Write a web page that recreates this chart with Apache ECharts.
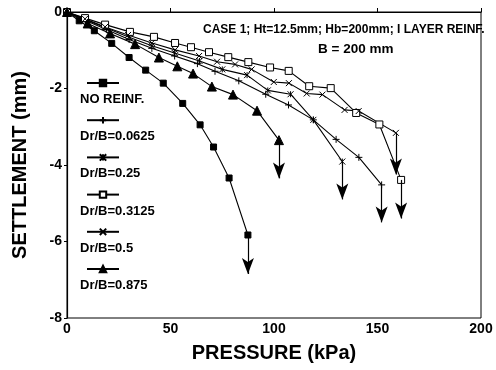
<!DOCTYPE html>
<html>
<head>
<meta charset="utf-8">
<script src="https://cdn.jsdelivr.net/npm/echarts@6/dist/echarts.min.js"></script>
<style>
  html, body { margin: 0; padding: 0; background: #fff; }
  #chart { width: 496px; height: 370px; }
</style>
</head>
<body>
<div id="chart"></div>
<script>
// pressure (kPa) / settlement (mm)
var noReinfP = [0, 5.9, 13.2, 21.6, 30, 38, 46.5, 55.9, 64.3, 70.8, 78.3, 87.4];
var noReinfS = [0, -0.23, -0.49, -0.82, -1.19, -1.52, -1.86, -2.39, -2.95, -3.53, -4.34, -5.83];

var d0625P = [0, 9, 19, 30, 41, 52, 63, 71.5, 83, 96, 107, 119, 130, 141, 152];
var d0625S = [0, -0.22, -0.46, -0.72, -0.95, -1.15, -1.35, -1.55, -1.8, -2.15, -2.43, -2.82, -3.33, -3.8, -4.52];

var d025P = [0, 9, 19, 30, 41, 52, 64, 75, 87, 97, 108, 119, 133];
var d025S = [0, -0.2, -0.42, -0.66, -0.88, -1.07, -1.28, -1.5, -1.65, -2.05, -2.15, -2.82, -3.91];

var d03125P = [0, 8.7, 18.4, 30.4, 42, 52.2, 59.9, 68.6, 77.9, 87.6, 98.1, 107.1, 117, 127.4, 139.7, 150.9, 161.4];
var d03125S = [0, -0.16, -0.33, -0.52, -0.65, -0.81, -0.92, -1.05, -1.18, -1.31, -1.45, -1.54, -1.94, -1.99, -2.64, -2.94, -4.39];

var d05P = [0, 8.7, 18.4, 29.5, 41, 52.2, 63.8, 72.5, 81.2, 89.2, 99.9, 107.2, 115.8, 123.4, 134.1, 140.9, 158.9];
var d05S = [0, -0.18, -0.39, -0.6, -0.81, -0.99, -1.15, -1.3, -1.37, -1.5, -1.83, -1.86, -2.13, -2.16, -2.56, -2.59, -3.16];

var d0875P = [0, 10, 20.8, 32.9, 44.4, 53.3, 60.9, 70, 80.2, 91.8, 102.4];
var d0875S = [0, -0.3, -0.56, -0.84, -1.19, -1.42, -1.61, -1.95, -2.16, -2.58, -3.35];

// where each failure arrow ends (settlement, mm)
var arrowEnds = [-6.85, -5.5, -4.9, -5.4, -4.25, -4.35];

var names = ['NO REINF.', 'Dr/B=0.0625', 'Dr/B=0.25', 'Dr/B=0.3125', 'Dr/B=0.5', 'Dr/B=0.875'];
var xTicks = [0, 50, 100, 150, 200];
var yTicks = [-8, -6, -4, -2, 0];

var chart = echarts.init(document.getElementById('chart'));

var sets = [
  [noReinfP, noReinfS, 'rect', 6, '#000'],
  [d0625P, d0625S, 'path://M5,0L5,10M0,5L10,5', 7, '#000'],
  [d025P, d025S, 'path://M0,0L10,10M10,0L0,10M5,0L5,10', 6, '#000'],
  [d03125P, d03125S, 'rect', 7, '#fff'],
  [d05P, d05S, 'path://M0,0L10,10M10,0L0,10', 6, '#000'],
  [d0875P, d0875S, 'triangle', 9, '#000']
];

var series = sets.map(function (s, i) {
  var xs = s[0], ys = s[1];
  var last = xs.length - 1;
  return {
    name: names[i],
    type: 'line',
    data: xs.map(function (p, k) { return [p, ys[k]]; }),
    symbol: s[2],
    symbolSize: s[3],
    showAllSymbol: true,
    lineStyle: { color: '#000', width: 1.1 },
    itemStyle: { color: s[4], borderColor: '#000', borderWidth: 1 },
    z: 3,
    markLine: {
      silent: true,
      symbol: ['none', 'arrow'],
      symbolSize: [9, 16],
      label: { show: false },
      lineStyle: { color: '#000', type: 'solid', width: 1.2 },
      data: [[{ coord: [xs[last], ys[last]] }, { coord: [xs[last], arrowEnds[i]] }]]
    }
  };
});

// one legend per entry; label pushed onto a second line under the line sample
var legends = names.map(function (n, i) {
  return {
    left: 75,
    top: 45 + i * 37.2,
    itemWidth: 32,
    itemHeight: 8,
    data: [n],
    formatter: function (name) { return '\n' + name; },
    textStyle: {
      fontSize: 13,
      fontWeight: 'bold',
      color: '#000',
      lineHeight: 33,
      padding: [0, 0, 0, -44]
    }
  };
});

var option = {
  animation: false,
  textStyle: { fontFamily: 'Liberation Sans', color: '#000' },
  title: [
    {
      text: 'CASE 1; Ht=12.5mm; Hb=200mm; I LAYER REINF.',
      left: 198, top: 19,
      textStyle: { fontSize: 12, fontWeight: 'bold', color: '#000' }
    },
    {
      text: 'B = 200 mm',
      left: 313, top: 37,
      textStyle: { fontSize: 13.5, fontWeight: 'bold', color: '#000' }
    }
  ],
  legend: legends,
  grid: {
    left: 67, right: 15, top: 12, bottom: 52,
    show: true,
    borderColor: '#000',
    borderWidth: 1
  },
  xAxis: {
    type: 'value',
    min: xTicks[0],
    max: xTicks[xTicks.length - 1],
    interval: 50,
    name: 'PRESSURE (kPa)',
    nameLocation: 'middle',
    nameGap: 25,
    nameTextStyle: { fontSize: 20, fontWeight: 'bold', color: '#000' },
    axisLine: { lineStyle: { color: '#000', width: 1.2 } },
    axisTick: { inside: true, length: 4, lineStyle: { color: '#000' } },
    axisLabel: { fontSize: 14, fontWeight: 'bold', color: '#000', margin: 4 },
    splitLine: { show: false }
  },
  yAxis: {
    type: 'value',
    min: yTicks[0],
    max: yTicks[yTicks.length - 1],
    interval: 2,
    name: 'SETTLEMENT (mm)',
    nameLocation: 'middle',
    nameGap: 37,
    nameTextStyle: { fontSize: 20, fontWeight: 'bold', color: '#000' },
    axisLine: { lineStyle: { color: '#000', width: 1.2 } },
    axisTick: { length: 3, lineStyle: { color: '#000' } },
    axisLabel: { fontSize: 14, fontWeight: 'bold', color: '#000', margin: 5 },
    splitLine: { show: false }
  },
  series: series
};

chart.setOption(option);
</script>
</body>
</html>
